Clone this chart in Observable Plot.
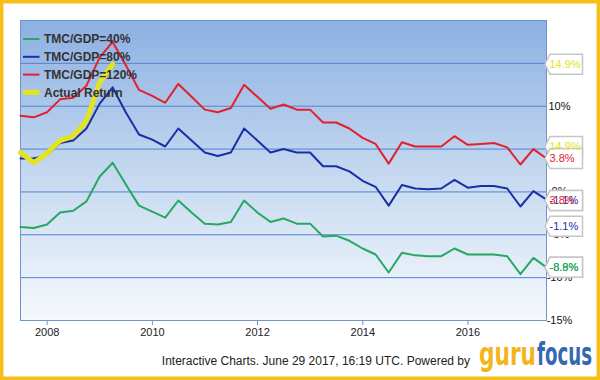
<!DOCTYPE html>
<html><head><meta charset="utf-8">
<script src="https://cdn.jsdelivr.net/npm/d3@7"></script>
<script src="https://cdn.jsdelivr.net/npm/@observablehq/plot@0.6"></script>
<style>
body{margin:0;background:#fff;}
#chart{width:600px;height:380px;}
svg{display:block;}
</style></head><body><div id="chart"></div>
<script>
const quarters = [
  "2007-06-30","2007-09-30","2007-12-31",
  "2008-03-31","2008-06-30","2008-09-30","2008-12-31",
  "2009-03-31","2009-06-30","2009-09-30","2009-12-31",
  "2010-03-31","2010-06-30","2010-09-30","2010-12-31",
  "2011-03-31","2011-06-30","2011-09-30","2011-12-31",
  "2012-03-31","2012-06-30","2012-09-30","2012-12-31",
  "2013-03-31","2013-06-30","2013-09-30","2013-12-31",
  "2014-03-31","2014-06-30","2014-09-30","2014-12-31",
  "2015-03-31","2015-06-30","2015-09-30","2015-12-31",
  "2016-03-31","2016-06-30","2016-09-30","2016-12-31",
  "2017-03-31","2017-06-30"
];
const seriesNames = ["TMC/GDP=40%","TMC/GDP=80%","TMC/GDP=120%","Actual Return"];
const seriesColors = ["#25a862","#1b2ea6","#e3202c","#e3e31e"];
const ret40 = [-4.1,-4.2,-3.8,-2.4,-2.2,-1.1,1.8,3.4,0.9,-1.6,-2.3,-3.0,-1.0,-2.4,-3.7,-3.8,-3.5,-1.0,-2.4,-3.5,-3.1,-3.7,-3.7,-5.2,-5.1,-5.7,-6.6,-7.3,-9.4,-7.1,-7.4,-7.5,-7.5,-6.6,-7.3,-7.3,-7.3,-7.5,-9.6,-7.7,-8.8];
const ret80 = [3.9,3.9,4.3,5.7,6.0,7.4,10.3,12.2,9.3,6.7,6.1,5.3,7.4,6.0,4.6,4.2,4.6,7.4,6.0,4.6,5.0,4.6,4.6,3.0,3.0,2.4,1.3,0.6,-1.6,0.8,0.4,0.3,0.4,1.4,0.5,0.7,0.7,0.4,-1.7,0.1,-0.9];
const ret120 = [8.9,8.7,9.3,10.8,11.0,12.4,15.7,17.5,14.8,11.9,11.2,10.4,12.6,11.1,9.6,9.3,9.8,12.5,11.1,9.7,10.2,9.6,9.6,8.1,8.1,7.4,6.3,5.6,3.3,5.8,5.3,5.3,5.3,6.5,5.5,5.6,5.7,5.2,3.2,5.0,3.9];
const actualReturn = [4.6,3.4,4.5,6.0,6.5,8.3,12.8,14.9];
const yTicks = [-15,-10,-5,0,5,10,15];
const xTicks = ["2008-01-01","2010-01-01","2012-01-01","2014-01-01","2016-01-01"];
const calloutValues = [14.9,5.3,3.9,-1.0,-1.0,-4.0,-8.8,-8.8];
const calloutLabels = ["14.9%","14.9%","3.8%","-1.1%","3.8%","-1.1%","-8.8%","-8.9%"];
const calloutSeries = [3,3,2,1,2,1,0,0];
const footerText = "Interactive Charts. June 29 2017, 16:19 UTC. Powered by";
const logoParts = ["guru","focus"];
const logoColors = ["#f3b519","#3468b0"];

const dates = quarters.map(q => new Date(q));
const lastDate = dates[dates.length - 1];
const lines = [ret40, ret80, ret120].map((vals, s) => vals.map((v, i) => ({date: dates[i], v, s})));
const actualRows = actualReturn.map((v, i) => ({date: dates[i], v}));
const callouts = calloutValues.map((v, i) => ({v, label: calloutLabels[i], color: seriesColors[calloutSeries[i]]}));

const tagSymbol = {
  draw(ctx) {
    ctx.moveTo(-1.5, 0);
    ctx.lineTo(3.5, -10);
    ctx.lineTo(36, -10);
    ctx.lineTo(36, 10);
    ctx.lineTo(3.5, 10);
    ctx.closePath();
  }
};

function background(index, scales, values, dims) {
  const x0 = dims.marginLeft, x1 = dims.width - dims.marginRight;
  const y0 = dims.marginTop, y1 = dims.height - dims.marginBottom;
  const g = d3.create("svg:g");
  const grad = g.append("defs").append("linearGradient")
    .attr("id", "plotbg").attr("x1", 0).attr("y1", 0).attr("x2", 0).attr("y2", 1);
  grad.append("stop").attr("offset", "0%").attr("stop-color", "#8cb0e2");
  grad.append("stop").attr("offset", "55%").attr("stop-color", "#c9dbf1");
  grad.append("stop").attr("offset", "100%").attr("stop-color", "#f6f9fd");
  g.append("rect").attr("x", x0).attr("y", y0).attr("width", x1 - x0).attr("height", y1 - y0)
    .attr("fill", "url(#plotbg)");
  return g.node();
}

function legend() {
  const g = d3.create("svg:g").attr("font-family", "Liberation Sans, Arial, sans-serif").attr("text-anchor", "start");
  seriesNames.forEach((name, i) => {
    const y = 39 + i * 17.8;
    g.append("line").attr("x1", 23).attr("x2", 39.5).attr("y1", y).attr("y2", y)
      .attr("stroke", seriesColors[i]).attr("stroke-width", i === 3 ? 5 : 2);
    g.append("text").attr("x", 44).attr("y", y).attr("dy", "0.36em").attr("text-anchor", "start")
      .attr("font-size", 12).attr("font-weight", "bold").attr("fill", "#333").text(name);
  });
  return g.node();
}

function decor(index, scales, values, dims) {
  const g = d3.create("svg:g");
  g.append("rect").attr("x", 1.75).attr("y", 1.75).attr("width", dims.width - 3.5).attr("height", dims.height - 3.5)
    .attr("fill", "none").attr("stroke", "#f7bf1c").attr("stroke-width", 3.5);
  g.append("text").attr("x", 470).attr("y", 365).attr("text-anchor", "end")
    .attr("font-family", "Liberation Sans, Arial, sans-serif").attr("font-size", 12).attr("fill", "#222")
    .text(footerText);
  const lx = [479, 537], lw = [57, 55];
  logoParts.forEach((p, i) => {
    g.append("text").attr("x", lx[i]).attr("y", 365).attr("text-anchor", "start")
      .attr("font-family", "DejaVu Sans Condensed, DejaVu Sans, sans-serif").attr("font-weight", "bold")
      .attr("font-size", 32).attr("textLength", lw[i]).attr("lengthAdjust", "spacingAndGlyphs")
      .attr("fill", logoColors[i]).text(p);
  });
  return g.node();
}

const chart = Plot.plot({
  width: 600, height: 380,
  marginLeft: 20, marginRight: 54, marginTop: 20, marginBottom: 60,
  style: {fontFamily: "Liberation Sans, Arial, sans-serif", fontSize: "11px", background: "white", color: "#222"},
  x: {type: "utc", domain: [dates[0], lastDate]},
  y: {domain: [-15, 20]},
  color: {type: "identity"},
  marks: [
    background,
    Plot.gridY(yTicks, {stroke: "#4f84d0", strokeOpacity: 1, strokeWidth: 1}),
    Plot.frame({stroke: "#6f94c8"}),
    Plot.axisX(xTicks.map(d => new Date(d)), {tickSize: 5, tickPadding: 3, tickFormat: d3.utcFormat("%Y"), stroke: "#6f94c8", fill: "#222", fontSize: 11, label: null}),
    Plot.axisY(yTicks, {anchor: "right", tickSize: 0, tickPadding: 13, textAnchor: "middle", tickFormat: d => d + "%", fill: "#111", fontSize: 11, label: null}),
    ...lines.map((rows, s) => Plot.line(rows, {x: "date", y: "v", stroke: seriesColors[s], strokeWidth: 2})),
    Plot.line(actualRows, {x: "date", y: "v", stroke: seriesColors[3], strokeWidth: 5, strokeLinejoin: "round"}),
    legend,
    Plot.dot(callouts, {x: () => lastDate, y: "v", symbol: tagSymbol, r: 5, fill: "white", stroke: "#c6c6c6", strokeWidth: 1.5}),
    Plot.text(callouts, {x: () => lastDate, y: "v", text: "label", fill: "color", textAnchor: "start", dx: 3, fontSize: 11}),
    decor
  ]
});
document.getElementById("chart").appendChild(chart);
</script>
</body></html>
